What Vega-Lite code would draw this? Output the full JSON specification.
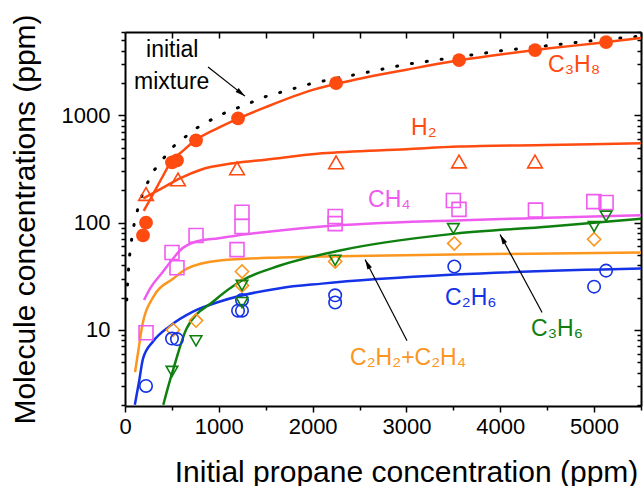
{
  "$schema": "https://vega.github.io/schema/vega-lite/v6.json",
  "width": 516,
  "height": 374,
  "autosize": {"type": "none"},
  "padding": {"left": 125, "top": 32, "right": 3, "bottom": 80},
  "background": "white",
  "config": {
    "font": "Liberation Sans",
    "view": {"stroke": null},
    "axis": {
      "grid": false,
      "domainColor": "black",
      "domainWidth": 2,
      "tickColor": "black",
      "tickWidth": 1.5,
      "labelColor": "black",
      "titleColor": "black",
      "labelFont": "Liberation Sans",
      "titleFont": "Liberation Sans",
      "titleFontWeight": "normal",
      "labelFontSize": 22,
      "titleFontSize": 30,
      "labelFlush": false
    }
  },
  "datasets": {
    "initial": [
      {"x": 19, "y": 19}, {"x": 30, "y": 30}, {"x": 50, "y": 50}, {"x": 75, "y": 75},
      {"x": 100, "y": 100}, {"x": 150, "y": 150}, {"x": 200, "y": 200}, {"x": 300, "y": 300},
      {"x": 500, "y": 500}, {"x": 750, "y": 750}, {"x": 1000, "y": 1000}, {"x": 1500, "y": 1500},
      {"x": 2000, "y": 2000}, {"x": 3000, "y": 3000}, {"x": 4000, "y": 4000}, {"x": 5000, "y": 5000},
      {"x": 5500, "y": 5500}
    ],
    "fits": [
      {"s": "C3H8", "x": 200, "y": 129}, {"s": "C3H8", "x": 300, "y": 185}, {"s": "C3H8", "x": 400, "y": 268},
      {"s": "C3H8", "x": 500, "y": 380}, {"s": "C3H8", "x": 600, "y": 453}, {"s": "C3H8", "x": 750, "y": 586},
      {"s": "C3H8", "x": 1000, "y": 770}, {"s": "C3H8", "x": 1200, "y": 930}, {"s": "C3H8", "x": 1500, "y": 1195},
      {"s": "C3H8", "x": 2000, "y": 1730}, {"s": "C3H8", "x": 2500, "y": 2200}, {"s": "C3H8", "x": 3000, "y": 2670},
      {"s": "C3H8", "x": 3500, "y": 3200}, {"s": "C3H8", "x": 4000, "y": 3700}, {"s": "C3H8", "x": 4500, "y": 4200},
      {"s": "C3H8", "x": 5000, "y": 4690}, {"s": "C3H8", "x": 5500, "y": 5270},
      {"s": "H2", "x": 195, "y": 168}, {"s": "H2", "x": 300, "y": 189}, {"s": "H2", "x": 400, "y": 211},
      {"s": "H2", "x": 586, "y": 259}, {"s": "H2", "x": 800, "y": 310}, {"s": "H2", "x": 1155, "y": 358},
      {"s": "H2", "x": 1500, "y": 387}, {"s": "H2", "x": 2100, "y": 443}, {"s": "H2", "x": 3000, "y": 484},
      {"s": "H2", "x": 3557, "y": 512}, {"s": "H2", "x": 4500, "y": 530}, {"s": "H2", "x": 5500, "y": 550},
      {"s": "CH4", "x": 203, "y": 19}, {"s": "CH4", "x": 267, "y": 24.3}, {"s": "CH4", "x": 400, "y": 34.5},
      {"s": "CH4", "x": 515, "y": 46.6}, {"s": "CH4", "x": 586, "y": 55}, {"s": "CH4", "x": 768, "y": 67},
      {"s": "CH4", "x": 1000, "y": 71.6}, {"s": "CH4", "x": 1194, "y": 76}, {"s": "CH4", "x": 1652, "y": 84.5},
      {"s": "CH4", "x": 2100, "y": 92}, {"s": "CH4", "x": 3520, "y": 105}, {"s": "CH4", "x": 4500, "y": 111},
      {"s": "CH4", "x": 5500, "y": 117},
      {"s": "C2H2+C2H4", "x": 107, "y": 4.04}, {"s": "C2H2+C2H4", "x": 150, "y": 7.1}, {"s": "C2H2+C2H4", "x": 178, "y": 10.3},
      {"s": "C2H2+C2H4", "x": 302, "y": 20.3}, {"s": "C2H2+C2H4", "x": 515, "y": 30.1}, {"s": "C2H2+C2H4", "x": 661, "y": 37.3},
      {"s": "C2H2+C2H4", "x": 1013, "y": 44.4}, {"s": "C2H2+C2H4", "x": 1652, "y": 47.3}, {"s": "C2H2+C2H4", "x": 2100, "y": 48.3},
      {"s": "C2H2+C2H4", "x": 3500, "y": 50.5}, {"s": "C2H2+C2H4", "x": 5500, "y": 52.7},
      {"s": "C2H6", "x": 105, "y": 2.0}, {"s": "C2H6", "x": 150, "y": 3.3}, {"s": "C2H6", "x": 192, "y": 5.4},
      {"s": "C2H6", "x": 299, "y": 7.8}, {"s": "C2H6", "x": 480, "y": 10.9}, {"s": "C2H6", "x": 725, "y": 14.8},
      {"s": "C2H6", "x": 1013, "y": 18.4}, {"s": "C2H6", "x": 1652, "y": 24.5}, {"s": "C2H6", "x": 2100, "y": 27},
      {"s": "C2H6", "x": 3520, "y": 32.8}, {"s": "C2H6", "x": 5500, "y": 37.3},
      {"s": "C3H6", "x": 408, "y": 2.0}, {"s": "C3H6", "x": 450, "y": 2.74}, {"s": "C3H6", "x": 515, "y": 4.3},
      {"s": "C3H6", "x": 657, "y": 10.3}, {"s": "C3H6", "x": 941, "y": 18.4}, {"s": "C3H6", "x": 1247, "y": 28.9},
      {"s": "C3H6", "x": 1652, "y": 39.8}, {"s": "C3H6", "x": 2290, "y": 55}, {"s": "C3H6", "x": 3520, "y": 79},
      {"s": "C3H6", "x": 4530, "y": 92}, {"s": "C3H6", "x": 5500, "y": 109}
    ],
    "points": [
      {"s": "C3H8", "x": 192, "y": 76}, {"s": "C3H8", "x": 224, "y": 100}, {"s": "C3H8", "x": 501, "y": 365},
      {"s": "C3H8", "x": 554, "y": 381}, {"s": "C3H8", "x": 757, "y": 586}, {"s": "C3H8", "x": 1205, "y": 940},
      {"s": "C3H8", "x": 2250, "y": 2000}, {"s": "C3H8", "x": 3561, "y": 3280}, {"s": "C3H8", "x": 4371, "y": 4070},
      {"s": "C3H8", "x": 5128, "y": 4830},
      {"s": "H2", "x": 224, "y": 185}, {"s": "H2", "x": 565, "y": 253}, {"s": "H2", "x": 1194, "y": 321},
      {"s": "H2", "x": 2250, "y": 365}, {"s": "H2", "x": 3560, "y": 372}, {"s": "H2", "x": 4370, "y": 372},
      {"s": "CH4", "x": 224, "y": 9.4}, {"s": "CH4", "x": 501, "y": 52.7}, {"s": "CH4", "x": 554, "y": 38},
      {"s": "CH4", "x": 757, "y": 76}, {"s": "CH4", "x": 1194, "y": 56}, {"s": "CH4", "x": 1247, "y": 92},
      {"s": "CH4", "x": 1247, "y": 125}, {"s": "CH4", "x": 2240, "y": 114}, {"s": "CH4", "x": 2240, "y": 98},
      {"s": "CH4", "x": 3500, "y": 161}, {"s": "CH4", "x": 3560, "y": 133}, {"s": "CH4", "x": 4375, "y": 131},
      {"s": "CH4", "x": 4997, "y": 157}, {"s": "CH4", "x": 5128, "y": 154},
      {"s": "C2H2+C2H4", "x": 512, "y": 10}, {"s": "C2H2+C2H4", "x": 757, "y": 12.2}, {"s": "C2H2+C2H4", "x": 1247, "y": 35},
      {"s": "C2H2+C2H4", "x": 1247, "y": 26}, {"s": "C2H2+C2H4", "x": 2240, "y": 43.4}, {"s": "C2H2+C2H4", "x": 3510, "y": 64},
      {"s": "C2H2+C2H4", "x": 5000, "y": 70},
      {"s": "C2H6", "x": 224, "y": 3.0}, {"s": "C2H6", "x": 501, "y": 8.3}, {"s": "C2H6", "x": 554, "y": 8.2},
      {"s": "C2H6", "x": 1205, "y": 15.1}, {"s": "C2H6", "x": 1247, "y": 15.1}, {"s": "C2H6", "x": 1247, "y": 19},
      {"s": "C2H6", "x": 2240, "y": 21}, {"s": "C2H6", "x": 2240, "y": 18}, {"s": "C2H6", "x": 3510, "y": 39},
      {"s": "C2H6", "x": 5000, "y": 25.3}, {"s": "C2H6", "x": 5128, "y": 35.7},
      {"s": "C3H6", "x": 501, "y": 4.1}, {"s": "C3H6", "x": 757, "y": 7.9}, {"s": "C3H6", "x": 1247, "y": 26},
      {"s": "C3H6", "x": 1247, "y": 18}, {"s": "C3H6", "x": 2240, "y": 44.6}, {"s": "C3H6", "x": 3500, "y": 88},
      {"s": "C3H6", "x": 5000, "y": 92}, {"s": "C3H6", "x": 5128, "y": 115}
    ],
    "arrows": [
      {"name": "initial", "x": 885, "y": 2826, "x2": 1279, "y2": 1513},
      {"name": "C2H2+C2H4", "x": 3006, "y": 7.93, "x2": 2559, "y2": 45.3},
      {"name": "C3H6", "x": 4446, "y": 14.5, "x2": 3998, "y2": 77.6}
    ],
    "labels": [
      {"s": "initial", "label": "initial", "x": 224, "y": 3500},
      {"s": "initial", "label": "mixture", "x": 96, "y": 1760},
      {"s": "C3H8", "label": "C₃H₈", "x": 4510, "y": 2535},
      {"s": "H2", "label": "H₂", "x": 3049, "y": 653},
      {"s": "CH4", "label": "CH₄", "x": 2591, "y": 139},
      {"s": "C2H6", "label": "C₂H₆", "x": 3412, "y": 17.2},
      {"s": "C3H6", "label": "C₃H₆", "x": 4328, "y": 8.8},
      {"s": "C2H2+C2H4", "label": "C₂H₂+C₂H₄", "x": 2399, "y": 4.73}
    ]
  },
  "resolve": {"axis": {"x": "independent", "y": "independent"}},
  "layer": [
    {
      "data": {"name": "initial"},
      "mark": {"type": "line", "color": "black", "strokeWidth": 3, "strokeDash": [1, 14], "strokeCap": "round"},
      "encoding": {
        "x": {"field": "x", "type": "quantitative", "scale": {"domain": [0, 5500], "nice": false, "zero": false},
          "axis": {"orient": "bottom", "values": [0, 1000, 2000, 3000, 4000, 5000], "format": "d", "tickSize": 6, "labelPadding": 4,
            "title": "Initial propane concentration (ppm)", "titleX": 281, "titleY": 75, "titleAlign": "center", "titleBaseline": "alphabetic", "titleAnchor": "start"}},
        "y": {"field": "y", "type": "quantitative", "scale": {"type": "log", "domain": [1.95, 6000], "nice": false},
          "axis": {"orient": "left", "values": [10, 100, 1000], "format": "d", "tickSize": 7, "labelPadding": 8,
            "title": "Molecule concentrations (ppm)", "titleX": -91, "titleY": 187, "titleAngle": 270, "titleAlign": "center", "titleBaseline": "alphabetic", "titleAnchor": "start"}}
      }
    },
    {
      "data": {"name": "fits"},
      "mark": {"type": "line", "strokeWidth": 2.5, "interpolate": "monotone"},
      "encoding": {
        "x": {"field": "x", "type": "quantitative", "scale": {"domain": [0, 5500], "nice": false, "zero": false},
          "axis": {"orient": "bottom", "values": [500, 1500, 2500, 3500, 4500, 5500], "tickSize": 4, "labels": false, "domain": false, "title": null}},
        "y": {"field": "y", "type": "quantitative", "scale": {"type": "log", "domain": [1.95, 6000], "nice": false},
          "axis": {"orient": "left", "values": [2, 3, 4, 5, 6, 7, 8, 9, 20, 30, 40, 50, 60, 70, 80, 90, 200, 300, 400, 500, 600, 700, 800, 900, 2000, 3000, 4000, 5000, 6000], "tickSize": 4, "labels": false, "domain": false, "title": null}},
        "color": {"field": "s", "type": "nominal", "legend": null,
          "scale": {"domain": ["C3H8", "H2", "CH4", "C2H2+C2H4", "C2H6", "C3H6", "initial"],
                    "range": ["#ff4a10", "#ff4a10", "#ef5bef", "#fb961e", "#1432e6", "#0f800f", "#000000"]}}
      }
    },
    {
      "data": {"name": "points"},
      "transform": [{"filter": "datum.s !== 'C3H8'"}],
      "mark": {"type": "point", "filled": false, "strokeWidth": 1.6, "opacity": 1},
      "encoding": {
        "x": {"field": "x", "type": "quantitative", "scale": {"domain": [0, 5500], "nice": false, "zero": false},
          "axis": {"orient": "top", "offset": -6, "values": [500, 1000, 1500, 2000, 2500, 3000, 3500, 4000, 4500, 5000, 5500], "tickSize": 6, "labels": false, "domain": false, "title": null}},
        "y": {"field": "y", "type": "quantitative", "scale": {"type": "log", "domain": [1.95, 6000], "nice": false},
          "axis": {"orient": "right", "offset": -7, "values": [10, 100, 1000], "tickSize": 7, "labels": false, "domain": false, "title": null}},
        "color": {"field": "s", "type": "nominal", "legend": null},
        "shape": {"field": "s", "type": "nominal", "legend": null,
          "scale": {"domain": ["H2", "CH4", "C2H2+C2H4", "C2H6", "C3H6"],
                    "range": ["triangle-up", "square", "diamond", "circle", "triangle-down"]}},
        "size": {"field": "s", "type": "nominal", "legend": null,
          "scale": {"domain": ["H2", "CH4", "C2H2+C2H4", "C2H6", "C3H6"], "range": [215, 135, 235, 150, 205]}}
      }
    },
    {
      "data": {"name": "points"},
      "transform": [{"filter": "datum.s === 'C3H8'"}],
      "mark": {"type": "circle", "size": 190, "opacity": 1},
      "encoding": {
        "x": {"field": "x", "type": "quantitative", "scale": {"domain": [0, 5500], "nice": false, "zero": false},
          "axis": {"orient": "top", "ticks": false, "labels": false, "domain": true, "title": null}},
        "y": {"field": "y", "type": "quantitative", "scale": {"type": "log", "domain": [1.95, 6000], "nice": false},
          "axis": {"orient": "right", "offset": -4, "values": [2, 3, 4, 5, 6, 7, 8, 9, 20, 30, 40, 50, 60, 70, 80, 90, 200, 300, 400, 500, 600, 700, 800, 900, 2000, 3000, 4000, 5000, 6000], "tickSize": 4, "labels": false, "domain": false, "title": null}},
        "color": {"field": "s", "type": "nominal", "legend": null}
      }
    },
    {
      "data": {"name": "arrows"},
      "mark": {"type": "rule", "color": "black", "strokeWidth": 1.2},
      "encoding": {
        "x": {"field": "x", "type": "quantitative", "scale": {"domain": [0, 5500], "nice": false, "zero": false}, "axis": null},
        "y": {"field": "y", "type": "quantitative", "scale": {"type": "log", "domain": [1.95, 6000], "nice": false},
          "axis": {"orient": "right", "ticks": false, "labels": false, "domain": true, "title": null}},
        "x2": {"field": "x2"},
        "y2": {"field": "y2"}
      }
    },
    {
      "data": {"name": "arrows"},
      "transform": [{"filter": "datum.name === 'initial'"}],
      "mark": {"type": "point", "shape": "M0,0L0.5,2L-0.5,2Z", "filled": true, "color": "black", "size": 100, "angle": 128, "opacity": 1, "strokeWidth": 0},
      "encoding": {
        "x": {"field": "x2", "type": "quantitative", "scale": {"domain": [0, 5500], "nice": false, "zero": false}, "axis": null},
        "y": {"field": "y2", "type": "quantitative", "scale": {"type": "log", "domain": [1.95, 6000], "nice": false}, "axis": null}
      }
    },
    {
      "data": {"name": "arrows"},
      "transform": [{"filter": "datum.name === 'C2H2+C2H4'"}],
      "mark": {"type": "point", "shape": "M0,0L0.5,2L-0.5,2Z", "filled": true, "color": "black", "size": 100, "angle": 332.6, "opacity": 1, "strokeWidth": 0},
      "encoding": {
        "x": {"field": "x2", "type": "quantitative", "scale": {"domain": [0, 5500], "nice": false, "zero": false}, "axis": null},
        "y": {"field": "y2", "type": "quantitative", "scale": {"type": "log", "domain": [1.95, 6000], "nice": false}, "axis": null}
      }
    },
    {
      "data": {"name": "arrows"},
      "transform": [{"filter": "datum.name === 'C3H6'"}],
      "mark": {"type": "point", "shape": "M0,0L0.5,2L-0.5,2Z", "filled": true, "color": "black", "size": 100, "angle": 331.7, "opacity": 1, "strokeWidth": 0},
      "encoding": {
        "x": {"field": "x2", "type": "quantitative", "scale": {"domain": [0, 5500], "nice": false, "zero": false}, "axis": null},
        "y": {"field": "y2", "type": "quantitative", "scale": {"type": "log", "domain": [1.95, 6000], "nice": false}, "axis": null}
      }
    },
    {
      "data": {"name": "labels"},
      "mark": {"type": "text", "align": "left", "baseline": "alphabetic", "fontSize": 23, "font": "Liberation Sans"},
      "encoding": {
        "x": {"field": "x", "type": "quantitative", "scale": {"domain": [0, 5500], "nice": false, "zero": false}, "axis": null},
        "y": {"field": "y", "type": "quantitative", "scale": {"type": "log", "domain": [1.95, 6000], "nice": false}, "axis": null},
        "text": {"field": "label"},
        "color": {"field": "s", "type": "nominal", "legend": null}
      }
    }
  ]
}
